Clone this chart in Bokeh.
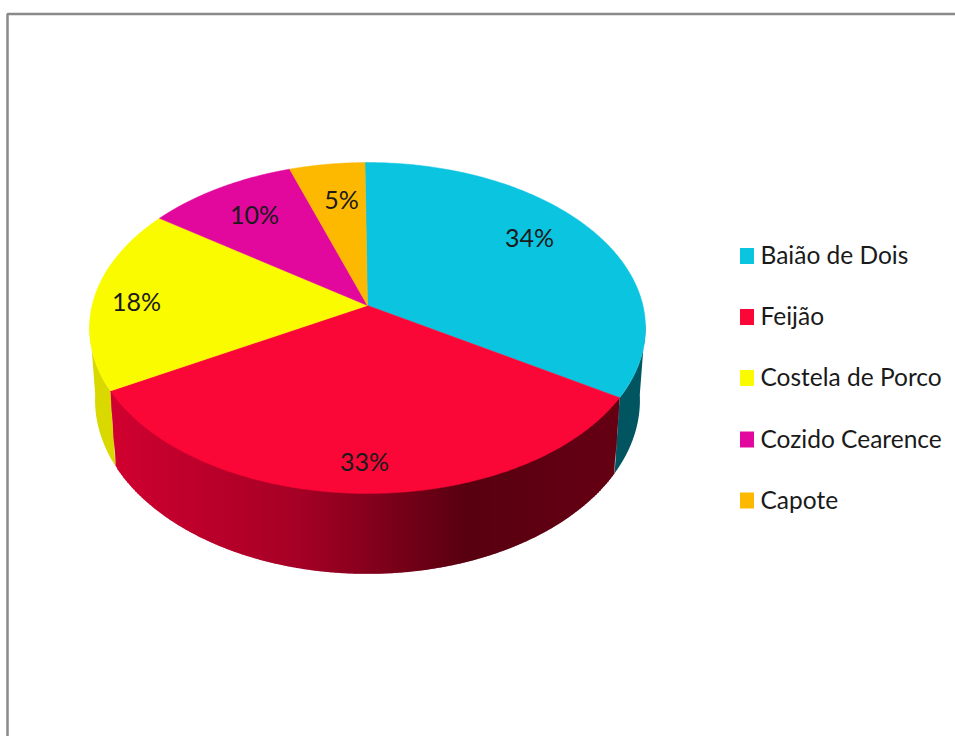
import numpy as np
from bokeh.core.properties import value
from bokeh.embed import file_html
from bokeh.models import ColumnDataSource, Range1d
from bokeh.plotting import figure
from bokeh.resources import INLINE

# Dish shares, clockwise from twelve o'clock
categories = ["Baião de Dois", "Feijão", "Costela de Porco", "Cozido Cearence", "Capote"]
shares = [34, 33, 18, 10, 5]
share_labels = ["34%", "33%", "18%", "10%", "5%"]
top_colors = ["#0bc4e0", "#fb0737", "#fbfb00", "#e2089e", "#fdb900"]
wall_colors = ["#005560", None, "#d9d900", "#a00670", "#b08000"]

# Screen anchors for the text
label_anchor_x = [529, 364, 136, 254, 341]
label_anchor_y = [238, 462, 302, 215, 200]
legend_row_y = [255.5, 316.5, 377.5, 439, 500]
TEXT_SHIFT = -1.5
FONT = value("Lato")

# Perspective disc: the centre sits above the middle of the projected ellipse
APEX_X, APEX_Y = 367.0, 305.0
RADIUS_X, RADIUS_Y = 275.4, 162.4
TILT = 0.136
START_ANGLE = np.radians(-0.6)
WALL_DROP, WALL_SCALE_X, WALL_SCALE_Y = 71.0, 0.98, 1.05
WALL_LIMIT = np.cos(np.radians(96))


def rim(theta, bottom=False):
    w = 1 + TILT * np.cos(theta)
    dx = RADIUS_X * np.sin(theta) / w
    dy = -RADIUS_Y * np.cos(theta) / w
    if bottom:
        return APEX_X + dx * WALL_SCALE_X, APEX_Y + WALL_DROP + dy * WALL_SCALE_Y
    return APEX_X + dx, APEX_Y + dy


def shaded_red(x):
    # Horizontal shading of the front wall, bright on the left, darkest right of centre
    r = np.interp(x, [115, 300, 467, 620], [208, 165, 88, 102])
    b = np.interp(x, [115, 300, 467, 620], [48, 38, 16, 20])
    return f"#{int(r):02x}00{int(b):02x}"


p = figure(width=955, height=736, output_backend="svg", toolbar_location=None,
           x_range=Range1d(0, 955), y_range=Range1d(736, 0), min_border=0)
p.axis.visible = False
p.grid.visible = False
p.outline_line_color = None
p.background_fill_color = "#ffffff"
p.border_fill_color = "#ffffff"

# Frame around the chart area, open to the right and below
p.line([7, 7, 955], [736, 13.5, 13.5], line_color="#8a8a8a", line_width=2.5)

edges = START_ANGLE + np.cumsum([0] + shares) / sum(shares) * 2 * np.pi

# Flat walls, limited to the arc that faces the viewer
for i in range(len(shares)):
    if wall_colors[i] is None:
        continue
    t = np.linspace(edges[i], edges[i + 1], 400)
    t = t[np.cos(t) < WALL_LIMIT]
    if len(t) < 2:
        continue
    x_top, y_top = rim(t)
    x_low, y_low = rim(t, bottom=True)
    p.patch(np.r_[x_top, x_low[::-1]], np.r_[y_top, y_low[::-1]],
            fill_color=wall_colors[i], line_color=None)

# Shaded front wall: vertical bands painted left to right, each overlapping the next
t = np.linspace(edges[1], edges[2], 600)[::-1]
x_top, y_top = rim(t)
x_low, y_low = rim(t, bottom=True)
lower_x = np.r_[x_top[0], x_low, x_top[-1]]
lower_y = np.r_[y_top[0], y_low, y_top[-1]]
bands = np.arange(np.floor(lower_x[0]), np.ceil(lower_x[-1]) + 1, 2.0)
band_xs, band_ys, band_colors = [], [], []
for a in bands[:-1]:
    a_clip, b_clip = max(a, lower_x[0]), min(a + 3.0, lower_x[-1])
    band_xs.append([a_clip, b_clip, b_clip, a_clip])
    band_ys.append([np.interp(a_clip, x_top, y_top) - 1, np.interp(b_clip, x_top, y_top) - 1,
                    np.interp(b_clip, lower_x, lower_y), np.interp(a_clip, lower_x, lower_y)])
    band_colors.append(shaded_red(a + 1.0))
p.patches("xs", "ys", source=ColumnDataSource(dict(xs=band_xs, ys=band_ys, c=band_colors)),
          fill_color="c", line_color=None)

# Top face
for i in range(len(shares)):
    t = np.linspace(edges[i], edges[i + 1], 160)
    x, y = rim(t)
    p.patch(np.r_[APEX_X, x], np.r_[APEX_Y, y], fill_color=top_colors[i], line_color=top_colors[i],
            line_width=0.5)

# Percentage labels
p.text(label_anchor_x, [y + TEXT_SHIFT for y in label_anchor_y], text=share_labels, text_font=FONT,
       text_font_size="25px", text_color="#1a1a1a", text_align="center", text_baseline="middle")

# Legend
p.rect([746.5] * len(categories), legend_row_y, width=14, height=16, fill_color=top_colors, line_color=None)
p.text([760] * len(categories), [y + TEXT_SHIFT for y in legend_row_y], text=categories, text_font=FONT,
       text_font_size="24.5px", text_color="#1a1a1a", text_align="left", text_baseline="middle")

open("out.html", "w").write(file_html(p, INLINE))
